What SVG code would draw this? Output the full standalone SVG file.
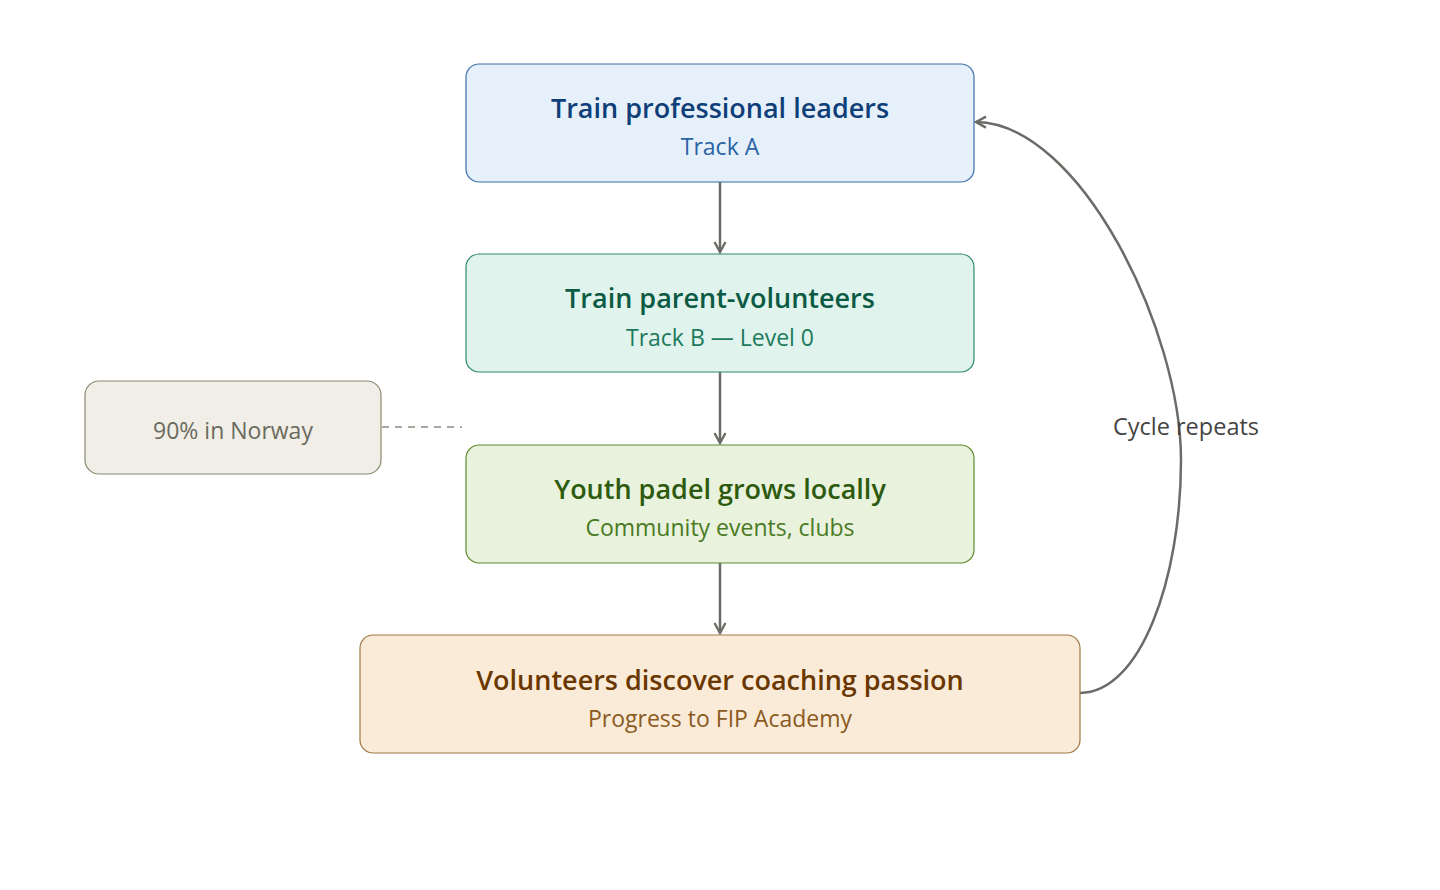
<svg xmlns="http://www.w3.org/2000/svg" width="1440" height="890" viewBox="0 0 1440 890">
<defs>
<marker id="arr" viewBox="0 0 14 14" refX="12" refY="7" markerWidth="14" markerHeight="14" markerUnits="userSpaceOnUse" orient="auto">
<path d="M2,1.5 L12,7 L2,12.5" fill="none" stroke="#6b6b67" stroke-width="2.4"/>
</marker>
<style>
.t{font-family:"Open Sans","Noto Sans",sans-serif;font-weight:600;font-size:27px;text-anchor:middle}
.s{font-family:"Open Sans","Noto Sans",sans-serif;font-size:23px;text-anchor:middle}
.e{fill:none;stroke:#6b6b67;stroke-width:2.5}
</style>
</defs>
<rect width="1440" height="890" fill="#ffffff"/>
<g id="connectors">
<line class="e" x1="720" y1="182" x2="720" y2="252" marker-end="url(#arr)"/>
<line class="e" x1="720" y1="372" x2="720" y2="443" marker-end="url(#arr)"/>
<line class="e" x1="720" y1="563" x2="720" y2="633" marker-end="url(#arr)"/>
<path class="e" d="M1080,693 C1140,693 1181,580 1181,460 C1181,330 1080,123 976,122" marker-end="url(#arr)"/>
<line x1="382" y1="427" x2="462" y2="427" stroke="#8a8a80" stroke-width="1.3" stroke-dasharray="7,6"/>
<text x="1186" y="435" style="font-family:'Open Sans','Noto Sans',sans-serif;font-size:23.5px;text-anchor:middle;fill:#444444">Cycle repeats</text>
</g>
<g id="node-a">
<rect x="466" y="64" width="508" height="118" rx="13" fill="#e6f0fb" stroke="#3a6ea5" stroke-width="1.2"/>
<text class="t" x="720" y="118" fill="#0f3f78">Train professional leaders</text>
<text class="s" x="720" y="155" fill="#2a63a6">Track A</text>
</g>
<g id="node-b">
<rect x="466" y="254" width="508" height="118" rx="13" fill="#e0f3ec" stroke="#2f8a68" stroke-width="1.2"/>
<text class="t" x="720" y="308" fill="#0b5a44">Train parent-volunteers</text>
<text class="s" x="720" y="346" fill="#1d7a5c">Track B — Level 0</text>
</g>
<g id="node-c">
<rect x="466" y="445" width="508" height="118" rx="13" fill="#e8f2dc" stroke="#5a8a30" stroke-width="1.2"/>
<text class="t" x="720" y="499" fill="#2d5a0f">Youth padel grows locally</text>
<text class="s" x="720" y="536" fill="#4a7a24">Community events, clubs</text>
</g>
<g id="node-d">
<rect x="360" y="635" width="720" height="118" rx="13" fill="#faebd8" stroke="#a07842" stroke-width="1.2"/>
<text class="t" x="720" y="690" fill="#6a3700">Volunteers discover coaching passion</text>
<text class="s" x="720" y="727" fill="#8a5a1f">Progress to FIP Academy</text>
</g>
<g id="note">
<rect x="85" y="381" width="296" height="93" rx="14" fill="#f0eee7" stroke="#8a8a6e" stroke-width="1.2"/>
<text class="s" x="233" y="439" fill="#6b6b5e">90% in Norway</text>
</g>
</svg>
